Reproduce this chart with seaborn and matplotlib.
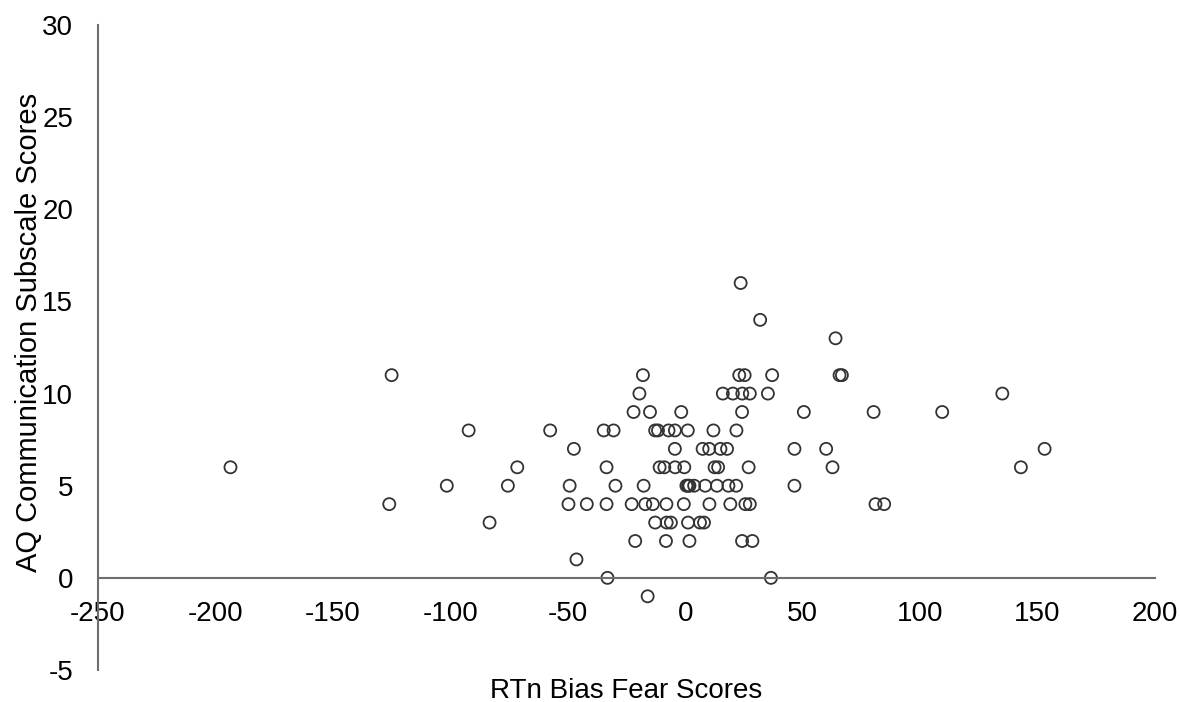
import matplotlib
matplotlib.use("Agg")
import matplotlib.pyplot as plt
import seaborn as sns
import numpy as np
import pandas as pd

# Data (x: RTn Bias Fear score, y: AQ Communication subscale)
y16_x = [23.6]
y14_x = [31.9]
y13_x = [64.0]
y11_x = [-125.0, -18.0, 23.0, 25.3, 37.0, 65.7, 66.7]
y10_x = [-19.5, 16.0, 20.3, 24.3, 27.5, 35.2, 135.0]
y9_x = [-22.0, -15.0, -1.7, 24.2, 50.5, 80.2, 109.4]
y8_x = [-92.2, -57.5, -34.7, -30.5, -12.8, -11.6, -7.1, -4.4, 1.1, 12.0, 21.8]
y7_x = [-47.4, -4.4, 7.4, 10.2, 15.0, 17.8, 46.5, 60.0, 153.0]
y6_x = [-193.6, -71.5, -33.5, -10.9, -8.9, -4.3, -0.4, 12.5, 14.0, 27.0, 62.7, 142.9]
y5_x = [-101.5, -75.5, -49.2, -29.7, -17.7, 0.5, 1.2, 1.8, 3.8, 8.5, 13.5, 18.4, 21.7, 46.5]
y4_x = [-126.0, -49.7, -41.9, -33.5, -22.8, -17.0, -13.8, -8.0, -0.6, 10.3, 19.2, 25.6, 27.5, 81.0, 84.7]
y3_x = [-83.3, -12.8, -7.9, -6.1, 1.2, 6.3, 8.0]
y2_x = [-21.3, -8.2, 1.8, 24.2, 28.6]
y1_x = [-46.3]
y0_x = [-33.1, 36.5]
ym1_x = [-16.0]

groups = {16: y16_x, 14: y14_x, 13: y13_x, 11: y11_x, 10: y10_x, 9: y9_x,
          8: y8_x, 7: y7_x, 6: y6_x, 5: y5_x, 4: y4_x, 3: y3_x, 2: y2_x,
          1: y1_x, 0: y0_x, -1: ym1_x}

xs, ys = [], []
for yv, xl in groups.items():
    for xv in xl:
        xs.append(xv)
        ys.append(yv)
df = pd.DataFrame({"RTn Bias Fear Scores": xs, "AQ Communication Subscale Scores": ys})

x_ticks = [-250, -200, -150, -100, -50, 0, 50, 100, 150, 200]
y_ticks = [-5, 0, 5, 10, 15, 20, 25, 30]

sns.set_style("white")
plt.rcParams["font.family"] = ["Liberation Sans", "DejaVu Sans"]

fig = plt.figure(figsize=(11.8, 7.02), dpi=100)
ax = fig.add_axes([98 / 1180, 1 - 670 / 702, (1155 - 98) / 1180, (670 - 25) / 702])

sns.scatterplot(data=df, x="RTn Bias Fear Scores", y="AQ Communication Subscale Scores",
                ax=ax, s=75, facecolors="none", edgecolors="#333333", linewidth=1.3,
                marker="o")

ax.set_xlim(-250, 200)
ax.set_ylim(-5, 30)
ax.set_xticks(x_ticks)
ax.set_yticks(y_ticks)
ax.set_xticklabels([str(t) for t in x_ticks])
ax.set_yticklabels([str(t) for t in y_ticks])

for side in ["top", "right"]:
    ax.spines[side].set_visible(False)
ax.spines["bottom"].set_position(("data", 0))
ax.spines["bottom"].set_color("#6e6e6e")
ax.spines["left"].set_color("#6e6e6e")
ax.spines["bottom"].set_linewidth(1.5)
ax.spines["left"].set_linewidth(1.5)

ax.tick_params(axis="x", length=0, pad=17, labelsize=20, colors="black")
ax.tick_params(axis="y", length=0, pad=18, labelsize=20, colors="black")

ax.set_xlabel("RTn Bias Fear Scores", fontsize=20, color="black")
ax.set_ylabel("AQ Communication Subscale Scores", fontsize=21, color="black")
ax.xaxis.set_label_coords(0.5, -0.012)
ax.yaxis.set_label_coords(-0.052, 0.524)

fig.savefig("out.png", dpi=100)
